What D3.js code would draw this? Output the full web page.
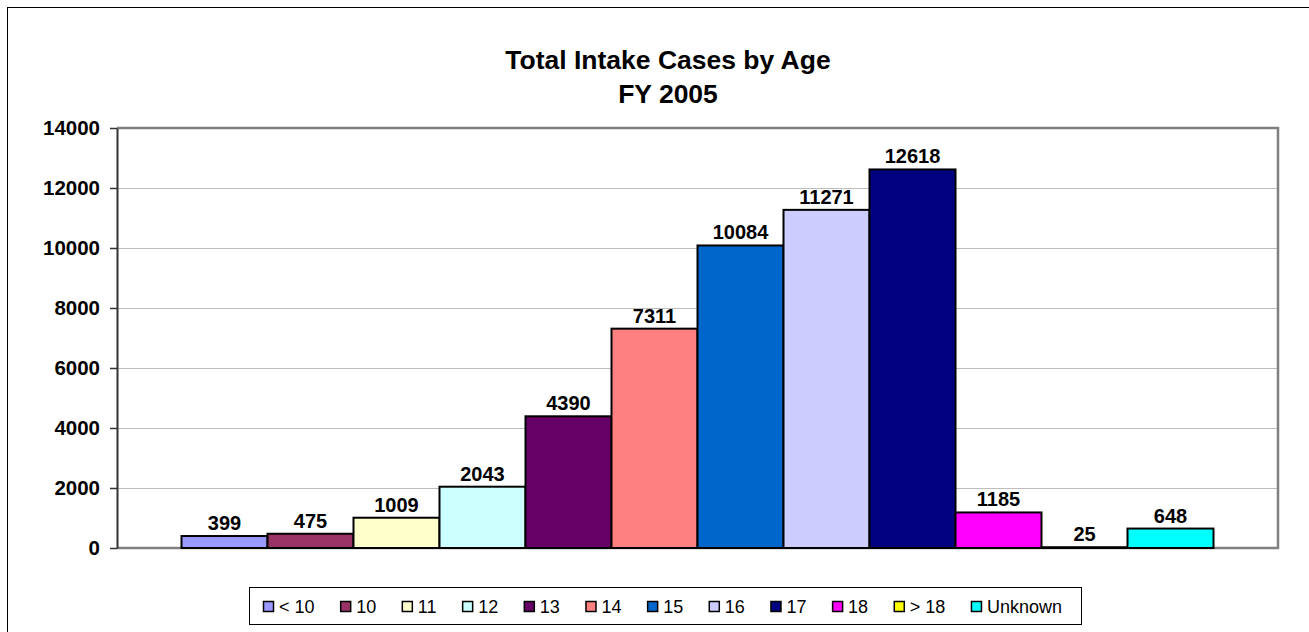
<!DOCTYPE html>
<html>
<head>
<meta charset="utf-8">
<script src="https://cdn.jsdelivr.net/npm/d3@7"></script>
<style>
  html, body { margin: 0; padding: 0; background: #fff; }
  svg { display: block; font-family: "Liberation Sans", Arial, sans-serif; }
</style>
</head>
<body>
<svg id="chart" width="1309" height="632"></svg>
<script>
// ---- data ----
const categories = ["< 10", "10", "11", "12", "13", "14", "15", "16", "17", "18", "> 18", "Unknown"];
const values = [399, 475, 1009, 2043, 4390, 7311, 10084, 11271, 12618, 1185, 25, 648];
const colors = ["#9999FF", "#993366", "#FFFFCC", "#CCFFFF", "#660066", "#FF8080",
                "#0066CC", "#CCCCFF", "#000080", "#FF00FF", "#FFFF00", "#00FFFF"];
const yTicks = [0, 2000, 4000, 6000, 8000, 10000, 12000, 14000];
const titleLines = ["Total Intake Cases by Age", "FY 2005"];

// ---- layout ----
const W = 1309, H = 632;
const plot = { left: 117, right: 1278, top: 128, bottom: 548 };

const svg = d3.select("#chart");

// outer chart border
svg.append("rect")
  .attr("x", 7.5).attr("y", 7.5)
  .attr("width", W + 20).attr("height", H + 20)
  .attr("fill", "#fff").attr("stroke", "#000").attr("stroke-width", 1);

// title
const title = svg.append("text")
  .attr("transform", "translate(668,0) scale(1.06,1)")
  .attr("text-anchor", "middle")
  .attr("font-size", 25).attr("font-weight", "bold").attr("fill", "#000");
titleLines.forEach((t, i) => {
  title.append("tspan").attr("x", 0).attr("y", 69 + i * 34).text(t);
});

// scales
const x = d3.scaleBand()
  .domain(categories)
  .range([plot.left, plot.right])
  .paddingInner(0)
  .paddingOuter(0.75);

const y = d3.scaleLinear()
  .domain([0, 14000])
  .range([plot.bottom, plot.top]);

// gridlines
svg.append("g")
  .selectAll("line")
  .data(yTicks.filter(d => d > 0 && d < 14000))
  .join("line")
  .attr("x1", plot.left).attr("x2", plot.right)
  .attr("y1", d => Math.round(y(d)) + 0.5).attr("y2", d => Math.round(y(d)) + 0.5)
  .attr("stroke", "#BDBDBD").attr("stroke-width", 1);

// plot area border (top/right/bottom gray)
svg.append("path")
  .attr("d", `M${plot.left},${plot.top}H${plot.right}V${plot.bottom}H${plot.left}`)
  .attr("fill", "none").attr("stroke", "#808080").attr("stroke-width", 2.5);

// y axis
const yAxis = svg.append("g")
  .attr("transform", `translate(${plot.left},0)`)
  .call(d3.axisLeft(y).tickValues(yTicks).tickSize(7).tickSizeOuter(0).tickPadding(10).tickFormat(d3.format("d")));
yAxis.select(".domain").attr("stroke", "#333").attr("stroke-width", 2);
yAxis.selectAll(".tick line").attr("stroke", "#333").attr("stroke-width", 1.5);
yAxis.selectAll(".tick text")
  .attr("font-size", 20.5).attr("font-weight", "bold").attr("fill", "#000")
  .attr("font-family", "'Liberation Sans', Arial, sans-serif");

// bars
svg.append("g")
  .selectAll("rect")
  .data(values)
  .join("rect")
  .attr("x", (d, i) => x(categories[i]))
  .attr("y", d => y(d))
  .attr("width", x.bandwidth())
  .attr("height", d => y(0) - y(d))
  .attr("fill", (d, i) => colors[i])
  .attr("stroke", "#000").attr("stroke-width", 2);

// data labels
svg.append("g")
  .selectAll("text")
  .data(values)
  .join("text")
  .attr("x", (d, i) => x(categories[i]) + x.bandwidth() / 2)
  .attr("y", d => y(d) - 6)
  .attr("text-anchor", "middle")
  .attr("font-size", 20).attr("font-weight", "bold").attr("fill", "#000")
  .text(d => d);

// legend
const leg = { left: 249, right: 1081, top: 587, bottom: 624 };
svg.append("rect")
  .attr("x", leg.left + 0.5).attr("y", leg.top + 0.5)
  .attr("width", leg.right - leg.left).attr("height", leg.bottom - leg.top)
  .attr("fill", "#fff").attr("stroke", "#000").attr("stroke-width", 1);

const legG = svg.append("g");
const items = legG.selectAll("g").data(categories).join("g");
items.append("rect")
  .attr("width", 10).attr("height", 10)
  .attr("y", 601.5)
  .attr("fill", (d, i) => colors[i])
  .attr("stroke", "#000").attr("stroke-width", 1.5);
const legTexts = items.append("text")
  .attr("y", 613)
  .attr("font-size", 18).attr("fill", "#000")
  .text(d => d);

const widths = [];
legTexts.each(function () { widths.push(this.getComputedTextLength()); });
const sq = 11, sqGap = 5;
const startX = 263, endX = 1062;
const total = d3.sum(widths) + categories.length * (sq + sqGap);
const gap = (endX - startX - total) / (categories.length - 1);
let cx = startX;
items.each(function (d, i) {
  const g = d3.select(this);
  g.select("rect").attr("x", cx + 0.5);
  g.select("text").attr("x", cx + sq + sqGap);
  cx += sq + sqGap + widths[i] + gap;
});
</script>
</body>
</html>
